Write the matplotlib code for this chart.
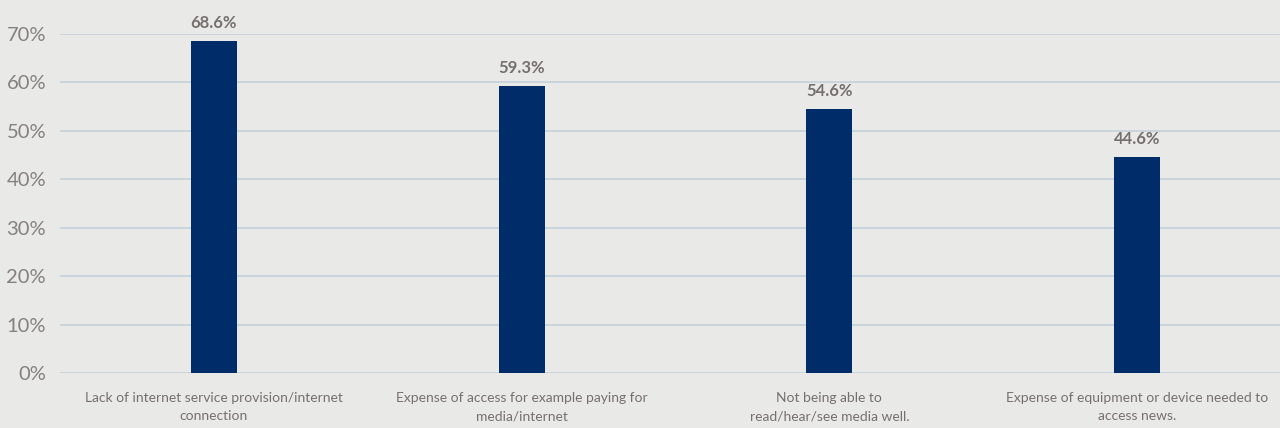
import matplotlib
matplotlib.use("Agg")
import matplotlib.pyplot as plt

categories = [
    "Lack of internet service provision/internet\nconnection",
    "Expense of access for example paying for\nmedia/internet",
    "Not being able to\nread/hear/see media well.",
    "Expense of equipment or device needed to\naccess news.",
]
values = [68.6, 59.3, 54.6, 44.6]
yticks = [0, 10, 20, 30, 40, 50, 60, 70]

bg = "#e9e9e7"
bar_color = "#002d6a"
text_gray = "#76706d"
grid_color = "#c3d0da"

plt.rcParams["font.family"] = ["Lato", "DejaVu Sans"]

fig = plt.figure(figsize=(12.8, 4.28), dpi=100, facecolor=bg)
ax = fig.add_axes([60 / 1280, 55 / 428, 1231 / 1280, 339 / 428])
ax.set_facecolor(bg)

x = range(len(values))
ax.bar(x, values, width=0.15, color=bar_color, zorder=3)

for xi, v in zip(x, values):
    ax.text(xi, v + 2.0, f"{v:.1f}%", ha="center", va="bottom",
            fontsize=12, fontweight="bold", color=text_gray, clip_on=False)

ax.set_xlim(-0.5, 3.5)
ax.set_ylim(0, 70)
ax.set_yticks(yticks)
ax.set_yticklabels([f"{t}%" for t in yticks], fontsize=14.5,
                   color="#858080")
ax.set_xticks(list(x))
ax.set_xticklabels(categories, fontsize=10, color=text_gray,
                   linespacing=1.6)

ax.grid(axis="y", color=grid_color, linewidth=1.2, zorder=0)
ax.tick_params(axis="both", length=0)
ax.tick_params(axis="y", pad=10)
ax.tick_params(axis="x", pad=14)
for s in ax.spines.values():
    s.set_visible(False)

fig.savefig("out.png", dpi=100, facecolor=bg)
